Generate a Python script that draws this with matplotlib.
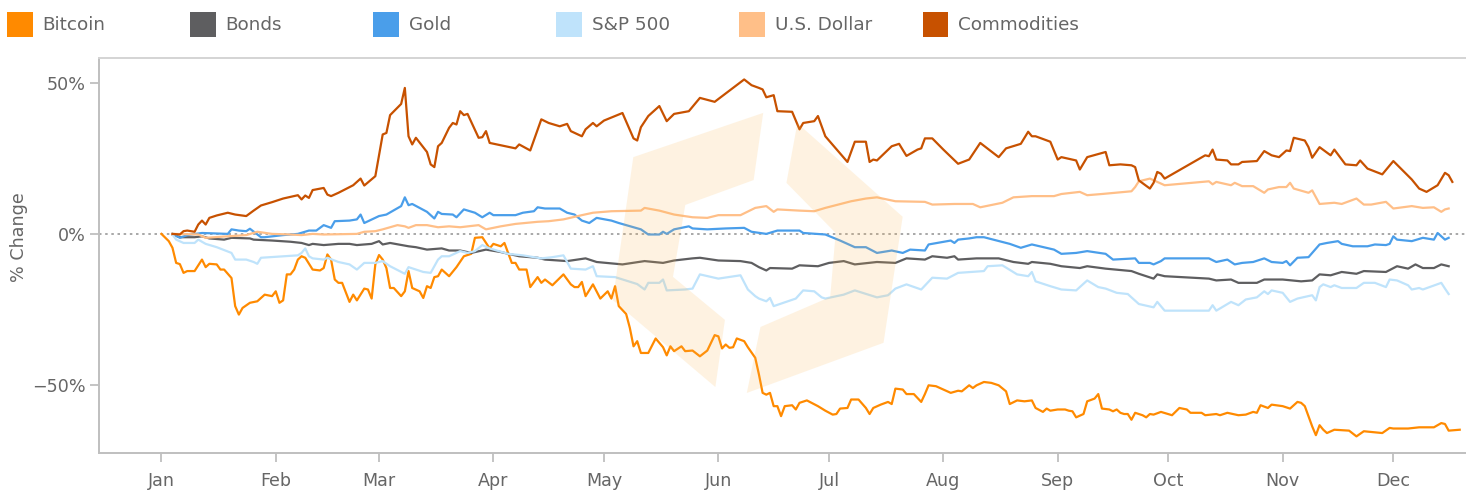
import matplotlib
matplotlib.use("Agg")
import matplotlib.pyplot as plt
import matplotlib.dates as mdates
from matplotlib.patches import Rectangle, Polygon
from datetime import datetime, timedelta

# (day of 2022, % change)
bitcoin = [(0,0),(2,-2.4),(3,-4.6),(4,-9.6),(5,-10),(6,-12.9),(7,-12.3),(9,-12.3),(11,-8.5),(12,-11),(13,-9.9),(15,-10.1),(16,-11.8),(17,-11.8),(19,-14.6),(20,-23.9),(21,-26.7),(22,-24.5),(24,-22.8),(26,-22.3),(28,-20.1),(30,-20.6),(31,-19),(32,-22.8),(33,-22),(34,-13.4),(35,-13.4),(36,-11.8),(37,-8.5),(38,-7.4),(39,-7.9),(41,-11.8),(43,-12.1),(44,-11.3),(45,-6.8),(46,-8.5),(47,-15.1),(48,-16.2),(49,-16.2),(51,-22.5),(52,-20.1),(53,-22),(55,-18.1),(56,-18.4),(57,-21.4),(58,-10.1),(59,-7),(60,-8.5),(61,-11.3),(62,-17.9),(63,-17.9),(65,-20.6),(66,-19),(67,-12.3),(68,-17.9),(70,-19),(71,-21.2),(72,-17.3),(73,-17.9),(74,-14.3),(75,-14),(76,-11.8),(78,-14),(80,-11),(82,-7.4),(84,-6.6),(85,-1.3),(87,-1.1),(89,-4.8),(90,-3.3),(92,-4.1),(93,-3),(95,-9.6),(96,-9.6),(97,-11.8),(99,-11.8),(100,-17.6),(102,-14.3),(103,-16.2),(104,-15.1),(106,-17),(109,-13.4),(111,-16.7),(112,-17.6),(113,-17.6),(114,-15.9),(115,-20.6),(117,-16.7),(119,-21.4),(121,-19),(122,-21.4),(123,-17.3),(124,-23.9),(126,-26.5),(127,-31.1),(128,-37.2),(129,-35.5),(130,-39.4),(132,-39.4),(134,-34.6),(136,-37.5),(137,-40.2),(138,-37.2),(139,-38.8),(141,-37.2),(142,-38.8),(144,-38.6),(146,-40.5),(148,-38.6),(150,-33.5),(151,-33.9),(152,-37.9),(153,-36.6),(154,-37.7),(155,-37.5),(156,-34.6),(158,-35.5),(159,-37.5),(161,-41),(162,-46.5),(163,-52.6),(164,-53.2),(165,-52.6),(166,-57),(167,-57),(168,-60.3),(169,-57),(171,-56.7),(172,-58.1),(173,-55.9),(175,-55.1),(178,-57),(180,-58.5),(182,-59.8),(183,-59.6),(184,-57.8),(186,-57.6),(187,-54.8),(189,-54.8),(191,-57.6),(192,-59.6),(193,-57.6),(195,-56.5),(197,-55.6),(198,-56.3),(199,-51.2),(201,-51.5),(202,-53),(204,-53),(206,-55.6),(207,-53),(208,-50.1),(210,-50.4),(212,-51.5),(214,-52.6),(216,-51.9),(217,-52.1),(219,-50.1),(220,-51),(221,-50.1),(223,-49),(225,-49.3),(227,-50.1),(229,-52.1),(230,-56.3),(232,-55.1),(234,-55.4),(236,-55.1),(237,-57.6),(239,-58.9),(240,-57.8),(241,-58.5),(243,-58.1),(245,-58.1),(246,-58.5),(247,-58.7),(248,-60.7),(250,-59.6),(251,-55.4),(253,-54.5),(254,-53),(255,-57.8),(257,-58.1),(258,-58.7),(259,-58.1),(260,-59.2),(261,-59.6),(262,-59.6),(263,-61.5),(264,-59.2),(266,-60),(267,-60.7),(268,-59.6),(269,-59.8),(271,-58.9),(274,-60),(276,-57.6),(278,-58.1),(279,-59.2),(282,-59.2),(283,-60),(286,-59.6),(287,-60),(289,-59.2),(292,-60),(294,-59.8),(296,-58.9),(297,-59.2),(298,-56.7),(300,-57.6),(301,-56.5),(304,-57),(306,-57.8),(308,-55.6),(309,-55.9),(310,-57),(312,-63.7),(313,-66.6),(314,-63.3),(315,-64.8),(316,-65.9),(318,-64.8),(322,-65.1),(324,-67),(326,-65.3),(331,-65.9),(333,-64.2),(334,-64.4),(338,-64.4),(341,-64),(345,-64),(347,-62.6),(348,-62.9),(349,-65.1),(352,-64.8)]

bonds = [(3,-0.2),(5,-1.1),(9,-1.1),(11,-0.8),(13,-1.5),(17,-1.9),(19,-1.3),(24,-1.5),(25,-1.9),(30,-2.2),(35,-2.6),(38,-3),(40,-3.7),(41,-3.3),(44,-3.7),(48,-3.3),(51,-3.3),(53,-3.7),(57,-3.3),(59,-2.4),(60,-3.5),(62,-3),(67,-4.1),(69,-4.4),(72,-5.2),(76,-4.8),(78,-5.5),(81,-5.5),(84,-6.3),(88,-5.2),(92,-6),(97,-7.4),(102,-7.9),(104,-8.5),(110,-9),(115,-8.1),(118,-9.3),(125,-10.1),(131,-9),(136,-9.6),(139,-8.8),(144,-8.1),(146,-7.9),(151,-8.8),(157,-9),(160,-9.6),(162,-11),(164,-12.1),(165,-11.3),(171,-11.5),(173,-10.4),(178,-10.7),(181,-9.6),(185,-9),(188,-10.1),(194,-9.3),(199,-9.6),(202,-8.1),(207,-8.5),(209,-7.4),(213,-7.9),(215,-7.4),(216,-8.5),(221,-8.1),(225,-8.1),(227,-8.1),(231,-9.3),(235,-9.9),(236,-9.3),(241,-9.9),(244,-10.7),(249,-11.3),(251,-10.7),(256,-11.5),(263,-12.3),(265,-13.2),(269,-14.8),(270,-13.4),(272,-14),(284,-14.8),(286,-15.4),(290,-15.1),(292,-16.2),(297,-16.2),(299,-15.1),(304,-15.1),(309,-15.7),(312,-15.4),(314,-13.4),(317,-13.7),(320,-12.6),(324,-13.2),(326,-12.3),(332,-12.6),(335,-10.7),(338,-11.5),(340,-10.1),(342,-11.3),(345,-11.3),(347,-10.1),(349,-10.7)]

gold = [(3,0),(5,-1.3),(7,-0.4),(11,0.3),(18,0),(19,1.5),(21,1.1),(23,0.9),(24,1.7),(27,-1.1),(28,-1.1),(33,-0.4),(37,0),(40,1.1),(42,1.1),(44,2.9),(46,2),(47,4.2),(51,4.4),(53,4.8),(54,6.4),(55,3.6),(59,5.9),(61,6.4),(65,9.2),(66,12.1),(67,9.5),(68,9.9),(72,7.3),(74,5.1),(75,7.3),(76,6.6),(79,6.4),(80,5.5),(82,8.1),(85,7),(87,5.5),(89,7),(90,6.2),(96,6.2),(98,7),(101,7.5),(102,8.8),(104,8.4),(108,8.4),(110,7),(112,6.4),(114,4.4),(116,3.6),(118,5.3),(122,4.4),(124,3.6),(128,2.2),(130,1.5),(132,-0.2),(135,-0.2),(136,0.7),(137,0),(139,1.5),(143,2.5),(144,1.8),(148,1.5),(153,1.8),(158,2),(160,0.7),(164,0),(167,1.1),(173,1.1),(174,0.3),(180,-0.2),(184,-2.2),(188,-4.4),(191,-4.4),(194,-6.3),(198,-5.5),(201,-6.3),(203,-5.2),(207,-5.5),(208,-3.5),(214,-2.2),(215,-3),(216,-1.9),(219,-1.5),(221,-1.1),(223,-1.1),(230,-3.3),(233,-4.6),(236,-3.5),(242,-5.2),(244,-6.6),(248,-6.3),(251,-5.7),(256,-6.6),(258,-8.5),(264,-8.1),(265,-9.6),(268,-9.6),(269,-10.1),(271,-9),(272,-8.1),(284,-8.1),(286,-9.3),(289,-8.5),(291,-10.1),(293,-9.6),(296,-9.3),(299,-8.1),(301,-9.3),(304,-9.6),(305,-9),(306,-10.4),(308,-7.9),(311,-7.7),(314,-3.5),(316,-3),(319,-2.4),(320,-3.3),(323,-4.1),(327,-4.1),(329,-3.5),(332,-3.7),(333,-3.3),(334,-0.8),(335,-1.9),(339,-2.4),(342,-1.3),(345,-1.9),(346,0.3),(348,-1.9),(349,-1.3)]

sp500 = [(3,-0.2),(4,-1.9),(6,-3),(9,-3),(10,-1.9),(12,-3.3),(15,-4.4),(19,-6.3),(20,-8.5),(23,-8.5),(25,-9.3),(26,-9.9),(27,-7.9),(37,-7.1),(38,-6.3),(39,-4.8),(40,-7.4),(41,-8.1),(44,-8.5),(45,-7.9),(48,-9.3),(51,-10.1),(53,-11.8),(55,-9.6),(58,-9.6),(60,-9),(62,-10.7),(66,-13.2),(67,-11),(69,-11.8),(71,-12.6),(73,-12.9),(75,-8.5),(76,-7.4),(78,-7.4),(81,-5.7),(83,-6.3),(85,-5.7),(87,-3.7),(89,-4.8),(94,-6.6),(98,-7.1),(103,-8.1),(106,-7.7),(109,-7.1),(111,-11.5),(115,-11.8),(117,-10.7),(118,-14),(123,-14.3),(129,-16.6),(131,-18.4),(132,-16.2),(135,-16.2),(136,-15.1),(137,-18.7),(142,-18.4),(144,-18.1),(146,-13.4),(151,-14.8),(157,-13.7),(159,-18.4),(161,-20.6),(162,-21.4),(164,-22.3),(165,-21.2),(166,-23.9),(172,-21.4),(174,-18.7),(177,-19),(179,-21),(180,-21.4),(185,-20.1),(188,-18.7),(194,-21),(197,-20.3),(199,-18.1),(202,-16.7),(206,-18.4),(209,-14.5),(213,-14.8),(216,-12.9),(223,-12.3),(224,-10.7),(228,-10.4),(232,-13.4),(235,-14),(236,-12.6),(237,-15.7),(241,-17.3),(244,-18.4),(248,-18.7),(251,-15.4),(254,-17.6),(256,-18.1),(259,-19.5),(262,-19.9),(265,-23.2),(269,-24.3),(270,-22.5),(272,-25.4),(284,-25.4),(285,-23.6),(286,-25.4),(290,-22.5),(292,-23.6),(294,-21.7),(297,-21),(299,-19),(300,-19.9),(301,-18.7),(304,-19.5),(306,-22.5),(308,-21.4),(312,-20.3),(313,-22),(314,-17.6),(315,-16.7),(317,-17.6),(318,-17),(320,-17.9),(324,-17.9),(326,-16.2),(329,-16.2),(332,-17.6),(333,-15.1),(335,-15.4),(338,-17),(339,-18.4),(341,-17.9),(342,-18.4),(347,-16.2),(348,-18.1),(349,-19.9)]

usd = [(3,0),(10,-0.2),(12,-1.3),(18,-0.8),(23,-0.4),(26,0.7),(30,0),(35,-0.2),(38,-0.4),(41,0),(44,-0.2),(53,0),(55,0.7),(58,0.9),(60,1.5),(62,2.2),(64,2.9),(66,2.5),(67,2),(69,2.9),(72,2.9),(75,2.2),(78,2.5),(81,2.2),(86,2.9),(88,1.5),(92,2.5),(96,3.3),(102,4),(105,4.2),(109,4.8),(114,6.2),(117,7),(122,7.5),(130,7.7),(131,8.6),(135,7.7),(139,6.4),(144,5.5),(148,5.3),(151,6.2),(157,6.2),(161,8.6),(162,8.8),(164,9.2),(166,7.3),(167,8.1),(173,7.7),(177,7.5),(180,8.6),(187,10.8),(191,11.7),(194,12.1),(199,10.8),(207,10.6),(209,9.7),(215,9.9),(220,9.9),(222,8.8),(228,10.3),(231,12.1),(236,12.5),(242,12.5),(244,13.2),(249,13.9),(251,12.8),(255,13.2),(263,14.1),(264,15.5),(265,17.4),(268,18.3),(270,17.2),(272,16.1),(284,17.4),(285,16.4),(286,17.2),(290,16.1),(291,16.9),(293,15.8),(296,15.8),(299,13.6),(300,14.7),(303,15.5),(305,15.5),(306,16.9),(307,15),(311,13.6),(312,14.4),(314,9.9),(318,10.3),(320,9.9),(324,11.7),(326,9.7),(328,9.7),(332,10.6),(334,8.4),(339,9.2),(342,8.6),(345,8.8),(347,7.3),(348,8.1),(349,8.4)]

commodities = [(3,0),(5,-0.2),(6,0.9),(7,1.1),(9,0.7),(10,3.1),(11,4.4),(12,3.1),(13,5.3),(15,6.1),(18,7),(20,6.4),(23,5.9),(25,7.7),(27,9.4),(30,10.5),(33,11.7),(37,12.8),(38,11.4),(39,12.7),(40,11.9),(41,14.5),(44,15.2),(45,13),(46,12.5),(48,13.6),(52,16.1),(54,18.3),(55,16),(58,19.1),(60,32.9),(61,33.4),(62,39.3),(65,43),(66,48.3),(67,32.3),(68,29.6),(69,31.8),(72,27.1),(73,23),(74,22.1),(75,29),(76,30.1),(78,35.1),(79,36.7),(80,36.2),(81,40.6),(82,39.3),(83,39.7),(86,31.8),(87,32),(88,34),(89,30.1),(96,28.3),(97,29.6),(100,27.6),(103,37.9),(105,36.7),(108,35.6),(110,36.4),(111,34),(114,32.3),(115,34.6),(117,36.7),(118,35.6),(120,37.5),(125,40),(128,31.6),(129,30.9),(130,35.3),(132,39),(135,42.3),(137,37.3),(139,39.7),(143,40.6),(146,45),(150,43.7),(158,51.1),(160,49.2),(162,48.3),(163,47.8),(164,45.2),(166,45.9),(167,40.6),(171,40.4),(173,34.6),(174,36.7),(177,37.3),(178,39),(180,32.3),(186,23.8),(188,30.5),(191,30.5),(192,23.8),(193,24.6),(194,24.3),(198,29),(200,29.8),(202,25.8),(205,27.9),(206,28.3),(207,31.6),(209,31.6),(212,27.9),(216,23.2),(219,24.6),(222,30.1),(227,25.4),(229,28.3),(233,29.8),(235,33.8),(236,32.3),(237,32.3),(241,30.5),(243,24.6),(244,25.4),(248,24.3),(249,21.3),(251,25.4),(256,27.1),(257,22.7),(260,23),(263,22.7),(264,22.1),(265,17.7),(268,15),(269,16.9),(270,20.5),(271,19.9),(272,18.3),(283,26),(284,25.7),(285,27.9),(286,24.6),(289,24.3),(290,23),(292,23),(293,23.8),(297,24.1),(299,27.4),(301,26),(303,25.4),(305,27.6),(306,27.4),(307,31.8),(310,30.9),(311,28.7),(312,25.2),(314,28.7),(317,26),(318,27.9),(321,23),(324,22.7),(325,24.3),(327,21.6),(331,19.7),(334,24.1),(339,18),(341,15),(343,13.9),(346,16.1),(348,20.2),(349,19.4),(350,17.2)]

series_names = ["Bitcoin", "Bonds", "Gold", "S&P 500", "U.S. Dollar", "Commodities"]
series_data = [bitcoin, bonds, gold, sp500, usd, commodities]
series_colors = ["#FF8A00", "#5E5E60", "#4A9EEA", "#BFE3FB", "#FFBF88", "#C75100"]

y_ticks = [-50, 0, 50]
y_ticklabels = ["\u221250%", "0%", "50%"]

start = datetime(2022, 1, 1)
W, H = 1466, 491
TXT = "#666666"
AXC = "#BFBFBF"

fig = plt.figure(figsize=(W / 100, H / 100), dpi=100)
ax = fig.add_axes([98.7 / W, 1 - 453 / H, (W - 98.7) / W, (453 - 58) / H])

ax.axhline(0, color="#9A9A9A", lw=1.2, ls=(0, (1.5, 2.2)), zorder=1)

for name, data, color in zip(series_names, series_data, series_colors):
    x = [start + timedelta(days=d) for d, _ in data]
    y = [v for _, v in data]
    ax.plot(x, y, color=color, lw=1.6, solid_joinstyle="round", zorder=3)

# faint logo watermark
logo_a = [(0.391, 0.749), (0.486, 0.861), (0.479, 0.691), (0.429, 0.628),
          (0.420, 0.446), (0.458, 0.337), (0.451, 0.167), (0.376, 0.387)]
logo_b = [(0.511, 0.835), (0.588, 0.598), (0.574, 0.279), (0.474, 0.152),
          (0.484, 0.319), (0.535, 0.395), (0.539, 0.557), (0.503, 0.684)]
for pts in (logo_a, logo_b):
    ax.add_patch(Polygon(pts, closed=True, transform=ax.transAxes,
                         facecolor="#FDB54E", alpha=0.17, edgecolor="none",
                         joinstyle="round", zorder=4))

x0 = mdates.date2num(start)
ax.set_xlim(x0 - 17.0, x0 + 353.7)
ax.set_ylim(-72.5, 58.2)

ax.xaxis.set_major_locator(mdates.MonthLocator())
ax.xaxis.set_major_formatter(mdates.DateFormatter("%b"))
ax.set_yticks(y_ticks)
ax.set_yticklabels(y_ticklabels)

ax.tick_params(axis="x", length=6.5, width=1.3, color=AXC, pad=7,
               labelsize=12.6, labelcolor=TXT)
ax.tick_params(axis="y", length=6.5, width=1.3, color=AXC, pad=3,
               labelsize=12.6, labelcolor=TXT)

for side in ["left", "bottom"]:
    ax.spines[side].set_color(AXC)
    ax.spines[side].set_linewidth(1.4)
ax.spines["top"].set_color("#D4D4D4")
ax.spines["top"].set_linewidth(1.4)
ax.spines["right"].set_visible(False)

fig.text(19.5 / W, 1 - 237 / H, "% Change", rotation=90, ha="center",
         va="center", fontsize=12.6, color=TXT)

# legend row across the top
for i, (name, color) in enumerate(zip(series_names, series_colors)):
    lx = 7 + i * 183.1
    fig.add_artist(Rectangle((lx / W, 1 - 37 / H), 25.5 / W, 25.5 / H,
                             transform=fig.transFigure, facecolor=color,
                             edgecolor="none"))
    fig.text((lx + 35.5) / W, 1 - 25 / H, name, ha="left", va="center",
             fontsize=13.2, color=TXT)

fig.savefig("out.png", dpi=100)
